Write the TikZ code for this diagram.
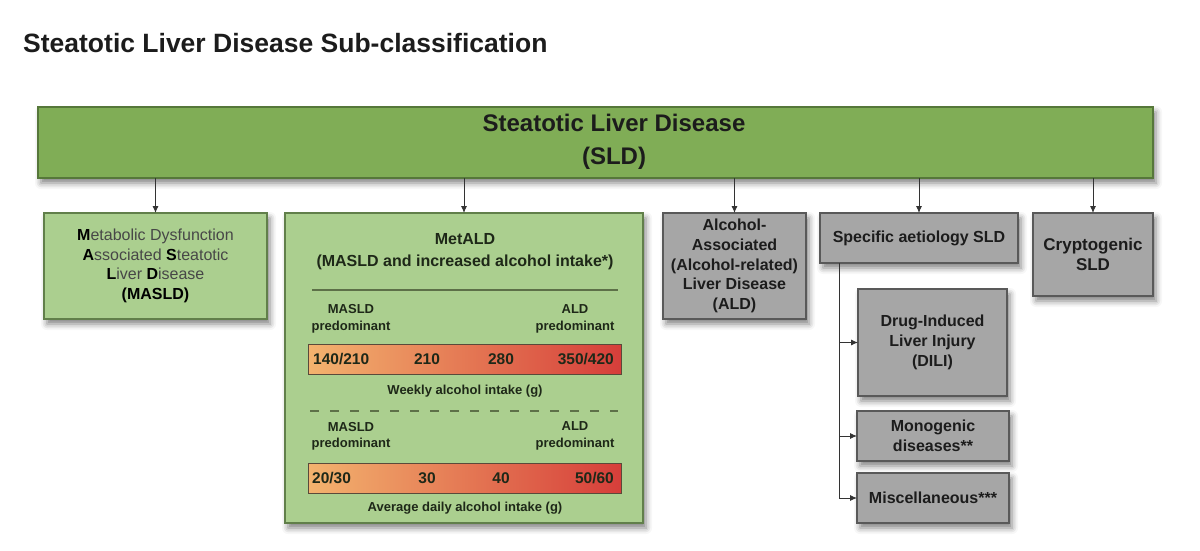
\documentclass[tikz,border=0pt]{standalone}
\usepackage{fontspec}
\setmainfont{Liberation Sans}
\usetikzlibrary{arrows.meta,shadows.blur,calc}
\definecolor{sldgreen}{HTML}{80AD56}
\definecolor{sldborder}{HTML}{56773A}
\definecolor{lgreen}{HTML}{ABCF8F}
\definecolor{lborder}{HTML}{617F4A}
\definecolor{gbox}{HTML}{A6A6A6}
\definecolor{gborder}{HTML}{595959}
\definecolor{txt}{HTML}{1C1C1C}
\definecolor{gtxt}{HTML}{1E2818}
\definecolor{barL}{HTML}{F3B36E}
\definecolor{barR}{HTML}{D63E3A}
\definecolor{barB}{HTML}{5A4A3A}
\definecolor{connc}{HTML}{333333}
\definecolor{sepc}{HTML}{5D7048}
\newcommand{\myfs}[2]{\fontsize{#1}{#2}\selectfont}
\begin{document}
\begin{tikzpicture}[x=1pt,y=-1pt,
  boxbase/.style={draw, line width=1.3pt, inner sep=0pt, outer sep=0pt, anchor=north west, align=center,
    blur shadow={shadow xshift=3pt, shadow yshift=-5pt, shadow blur radius=6pt, shadow opacity=50}},
  greenbox/.style={boxbase, fill=lgreen, draw=lborder},
  graybox/.style={boxbase, fill=gbox, draw=gborder, text=txt, font=\myfs{16}{19.7}\bfseries},
  conn/.style={draw=connc, line width=0.9pt, -{Latex[length=7pt,width=6pt]}},
  lbl/.style={inner sep=0pt, align=center, text=gtxt},
  predlbl/.style={lbl, font=\myfs{13}{16.8}\bfseries},
  numlbl/.style={inner sep=0pt, text=gtxt, font=\myfs{15.5}{18}\bfseries},
  axislbl/.style={lbl, font=\myfs{13}{16}\bfseries},
  barbox/.style={draw=barB, line width=1pt, left color=barL, right color=barR, inner sep=0pt, minimum width=313pt, minimum height=30pt}
]
\useasboundingbox (0,0) rectangle (1200,551);

% title
\node[anchor=base west, inner sep=0pt, text=txt, font=\myfs{26.5}{30}\bfseries] (title) at (23,53) {Steatotic Liver Disease Sub-classification};

% top box
\node[boxbase, fill=sldgreen, draw=sldborder, minimum width=1115pt, minimum height=71pt] (sld) at (38,107) {};
\node[inner sep=0pt, align=center, text=txt, font=\myfs{24}{33}\bfseries] (sldtext) at (614,141.5) {Steatotic Liver Disease\\(SLD)};

% second row
\node[greenbox, minimum width=223pt, minimum height=106pt, text=black!72, font=\myfs{16}{19.7}] (masld) at (44,213)
  {\textcolor{black}{\bfseries M}etabolic Dysfunction\\\textcolor{black}{\bfseries A}ssociated \textcolor{black}{\bfseries S}teatotic\\\textcolor{black}{\bfseries L}iver \textcolor{black}{\bfseries D}isease\\\textcolor{black}{\bfseries (MASLD)}};
\node[greenbox, minimum width=358pt, minimum height=310pt] (metald) at (285,213) {};
\node[graybox, minimum width=143pt, minimum height=106pt] (ald) at (663,213)
  {Alcohol-\\Associated\\(Alcohol-related)\\Liver Disease\\(ALD)};
\node[graybox, minimum width=198pt, minimum height=50pt] (spec) at (820,213) {Specific aetiology SLD};
\node[graybox, minimum width=120pt, minimum height=83pt, font=\myfs{17}{20}\bfseries] (crypto) at (1033,213) {Cryptogenic\\SLD};

% third column sub boxes
\node[graybox, minimum width=149pt, minimum height=107pt] (dili) at (858,289) {Drug-Induced\\Liver Injury\\(DILI)};
\node[graybox, minimum width=152pt, minimum height=50pt] (mono) at (857,411) {Monogenic\\diseases**};
\node[graybox, minimum width=152pt, minimum height=50pt] (misc) at (857,473) {Miscellaneous***};

% MetALD content
\node[lbl, font=\myfs{16}{22}\bfseries] (mtitle) at (465,252) {MetALD\\(MASLD and increased alcohol intake*)};
\coordinate (sepL) at (312,290);
\coordinate (sepR) at (618,290);
\draw[sepc, line width=1.2pt] (sepL) -- (sepR);

\node[predlbl] (predA1) at (351,318.5) {MASLD\\predominant};
\node[predlbl] (predB1) at (575,318.5) {ALD\\predominant};
\node[barbox] (bar1) at (464.5,359) {};
\node[numlbl, anchor=west] (n11) at (313,359) {140/210};
\node[numlbl] (n12) at (427,359) {210};
\node[numlbl] (n13) at (501,359) {280};
\node[numlbl, anchor=east] (n14) at (614,359) {350/420};
\node[axislbl] (ax1) at (465,391) {Weekly alcohol intake (g)};

\coordinate (dashL) at (310,411);
\coordinate (dashR) at (618,411);
\draw[sepc, line width=1.2pt, dash pattern=on 9pt off 11pt] (dashL) -- (dashR);

\node[predlbl, font=\myfs{13}{16.3}\bfseries] (predA2) at (351,436) {MASLD\\predominant};
\node[predlbl, font=\myfs{13}{16.3}\bfseries] (predB2) at (575,436) {ALD\\predominant};
\node[barbox] (bar2) at (464.5,478) {};
\node[numlbl, anchor=west] (n21) at (312,478) {20/30};
\node[numlbl] (n22) at (427,478) {30};
\node[numlbl] (n23) at (501,478) {40};
\node[numlbl, anchor=east] (n24) at (614,478) {50/60};
\node[axislbl] (ax2) at (465,508) {Average daily alcohol intake (g)};

% connectors from SLD
\foreach \t in {masld,metald,ald,spec,crypto}
  \draw[conn] (sld.south -| \t.north) -- (\t.north);

% specific aetiology tree
\coordinate (trunk) at ($(spec.south west)+(19,0)$);
\draw[conn] (trunk) |- (dili.west);
\draw[conn] (trunk) |- (mono.west);
\draw[conn] (trunk) |- (misc.west);
\end{tikzpicture}
\end{document}
